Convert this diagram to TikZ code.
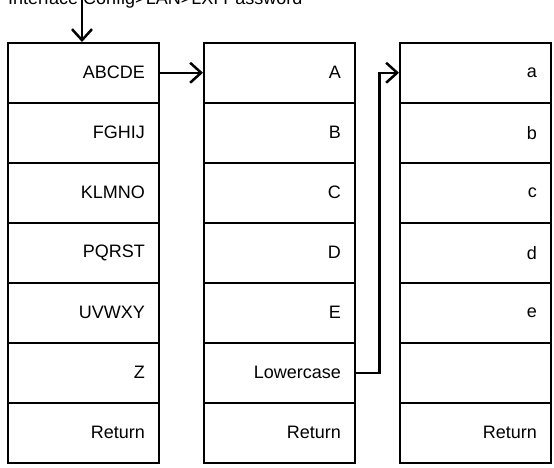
\documentclass[tikz,border=0pt]{standalone}
\usepackage{fontspec}
\setmainfont{Liberation Sans}
\usetikzlibrary{arrows.meta}
\begin{document}
\begin{tikzpicture}[x=1pt,y=-1pt,
  cell/.style={draw,line width=1.5pt,minimum width=151pt,minimum height=60pt,inner sep=0pt,anchor=north west},
  lbl/.style={font=\fontsize{18}{21}\selectfont,anchor=east},
  conn/.style={line width=2.5pt,-{Straight Barb[length=11pt,width=20pt,line width=2.5pt]}}]
\useasboundingbox (0,0) rectangle (554,467);
\foreach \c/\x in {a/7,b/203,c/399}{
  \foreach \r in {0,...,6}{
    \node[cell] (\c\r) at (\x,42+60*\r) {};
  }
}
\foreach \r/\t in {0/ABCDE,1/FGHIJ,2/KLMNO,3/PQRST,4/UVWXY,5/Z,6/Return}{
  \node[lbl] (ta\r) at ([xshift=-11pt]a\r.east) {\t};
}
\foreach \r/\t in {0/A,1/B,2/C,3/D,4/E,5/Lowercase,6/Return}{
  \node[lbl] (tb\r) at ([xshift=-11pt]b\r.east) {\t};
}
\foreach \r/\t in {0/a,1/b,2/c,3/d,4/e,6/Return}{
  \node[lbl] (tc\r) at ([xshift=-11pt]c\r.east) {\t};
}
\node[font=\fontsize{18}{21}\selectfont,anchor=base west,inner sep=0pt] (title) at (8,4) {Interface Config>LAN>LXI Password};
\coordinate (top) at (82,0);
\draw[conn] (top) -- (top |- a0.north);
\draw[conn] (a0.east) -- (b0.west);
\draw[conn] (b5.east) -- ++(24,0) |- (c0.west);
\end{tikzpicture}
\end{document}
